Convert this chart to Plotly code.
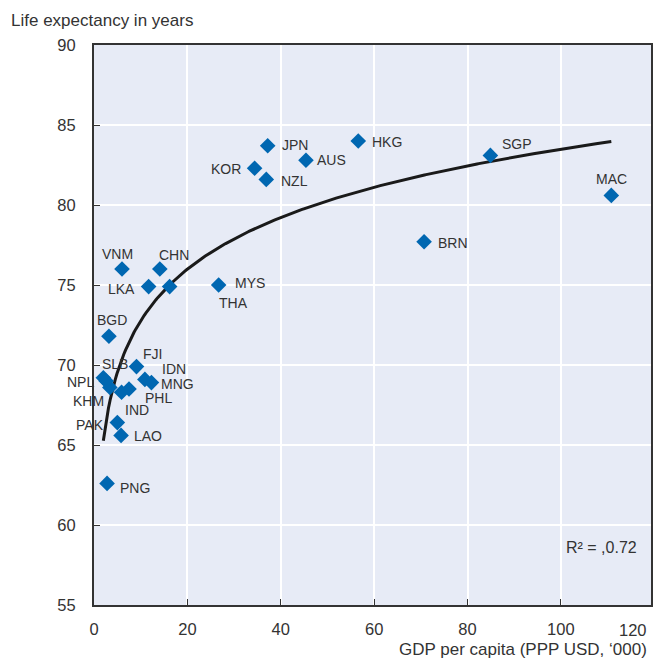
import numpy as np
import plotly.graph_objects as go

# Economies, GDP per capita (PPP USD, thousands) and life expectancy (years)
countries = ["PNG", "LAO", "PAK", "IND", "KHM", "NPL", "SLB", "PHL", "IDN", "MNG",
             "FJI", "BGD", "VNM", "CHN", "LKA", "THA", "MYS", "KOR", "JPN", "NZL",
             "AUS", "HKG", "SGP", "MAC", "BRN"]
gdp_per_capita = [2.8, 5.8, 5.0, 5.9, 3.4, 2.0, 2.6, 7.5, 10.9, 12.3,
                  9.1, 3.2, 6.0, 14.1, 11.7, 16.2, 26.7, 34.4, 37.2, 36.9,
                  45.4, 56.6, 84.9, 110.8, 70.7]
life_expectancy = [62.6, 65.6, 66.4, 68.3, 68.6, 69.2, 69.0, 68.5, 69.1, 68.9,
                   69.9, 71.8, 76.0, 76.0, 74.9, 74.9, 75.0, 82.3, 83.7, 81.6,
                   82.8, 84.0, 83.1, 80.6, 77.7]
r_squared_label = "R² = ,0.72"

x_ticks = [0, 20, 40, 60, 80, 100, 120]
y_ticks = [55, 60, 65, 70, 75, 80, 85, 90]

# label placement: (xanchor, xshift, yshift) in pixels relative to the marker
label_pos = {
    "PNG": ("left", 11, -5), "LAO": ("left", 11, -1), "PAK": ("right", -11, -2),
    "IND": ("left", 1, -18), "KHM": ("right", -4, -14), "NPL": ("right", -7, -4),
    "SLB": ("left", -6, 17), "PHL": ("left", 14, -9), "IDN": ("left", 15, 10),
    "MNG": ("left", 8, -1), "FJI": ("left", 5, 13), "BGD": ("center", 3, 16),
    "VNM": ("center", -5, 15), "CHN": ("center", 14, 14), "LKA": ("right", -12, -2),
    "THA": ("center", 64, -16), "MYS": ("left", 14, 2), "KOR": ("right", -12, -1),
    "JPN": ("left", 12, 1), "NZL": ("left", 13, -2), "AUS": ("left", 9, 0),
    "HKG": ("left", 12, -1), "SGP": ("left", 10, 11), "MAC": ("center", 0, 16),
    "BRN": ("left", 12, -1),
}

FONT = "Liberation Sans, Arial, sans-serif"
TEXT = "#333333"
BLUE = "#0067b1"

# logarithmic trend line fitted to the data
lx = np.log(np.array(gdp_per_capita))
b, a = np.polyfit(lx, np.array(life_expectancy), 1)
xs = np.linspace(min(gdp_per_capita), max(gdp_per_capita), 300)
ys = a + b * np.log(xs)

fig = go.Figure()
fig.add_trace(go.Scatter(x=xs, y=ys, mode="lines",
                         line=dict(color="#1a1a1a", width=3), hoverinfo="skip"))
fig.add_trace(go.Scatter(x=gdp_per_capita, y=life_expectancy, mode="markers",
                         marker=dict(symbol="diamond", size=12, color=BLUE),
                         text=countries, hoverinfo="text"))

for c, gx, ly in zip(countries, gdp_per_capita, life_expectancy):
    anchor, dx, dy = label_pos[c]
    fig.add_annotation(x=gx, y=ly, text=c, showarrow=False, xanchor=anchor,
                       yanchor="middle", xshift=dx, yshift=dy,
                       font=dict(family=FONT, size=14, color=TEXT))

fig.add_annotation(xref="paper", yref="paper", x=0.843, y=0.102, text=r_squared_label,
                   showarrow=False, xanchor="left", yanchor="middle",
                   font=dict(family=FONT, size=16, color=TEXT))
fig.add_annotation(xref="paper", yref="paper", x=-0.153, y=1.0, yshift=25,
                   text="Life expectancy in years", showarrow=False,
                   xanchor="left", yanchor="middle",
                   font=dict(family=FONT, size=17, color=TEXT))
fig.add_annotation(xref="paper", yref="paper", x=1.0, y=0, yshift=-44, xshift=-2,
                   text="GDP per capita (PPP USD, ‘000)", showarrow=False,
                   xanchor="right", yanchor="middle",
                   font=dict(family=FONT, size=17, color=TEXT))
# last x tick label, kept inside the page
fig.add_annotation(xref="paper", yref="paper", x=1.0, y=0, yshift=-25, xshift=-2,
                   text=str(x_ticks[-1]), showarrow=False, xanchor="right",
                   yanchor="middle", font=dict(family=FONT, size=16.5, color=TEXT))

fig.update_layout(
    width=656, height=658,
    margin=dict(l=94, r=3, t=45, b=53),
    paper_bgcolor="white", plot_bgcolor="#e7ebf6",
    showlegend=False,
    font=dict(family=FONT, color=TEXT),
)
fig.update_xaxes(range=[0, 119.3], tickvals=x_ticks[:-1], ticks="inside", ticklen=6,
                 tickcolor="#333333", tickwidth=1, showgrid=True, gridcolor="white",
                 gridwidth=2, showline=True, linecolor="#333333", linewidth=2,
                 mirror=True, zeroline=False, tickfont=dict(size=16.5, color=TEXT),
                 ticklabelstandoff=8)
fig.update_yaxes(range=[55, 90], tickvals=y_ticks, ticks="inside", ticklen=6,
                 tickcolor="#333333", tickwidth=1, showgrid=True, gridcolor="white",
                 gridwidth=2, showline=True, linecolor="#333333", linewidth=2,
                 mirror=True, zeroline=False, tickfont=dict(size=16.5, color=TEXT),
                 ticklabelstandoff=13)

fig.write_html("out.html")
